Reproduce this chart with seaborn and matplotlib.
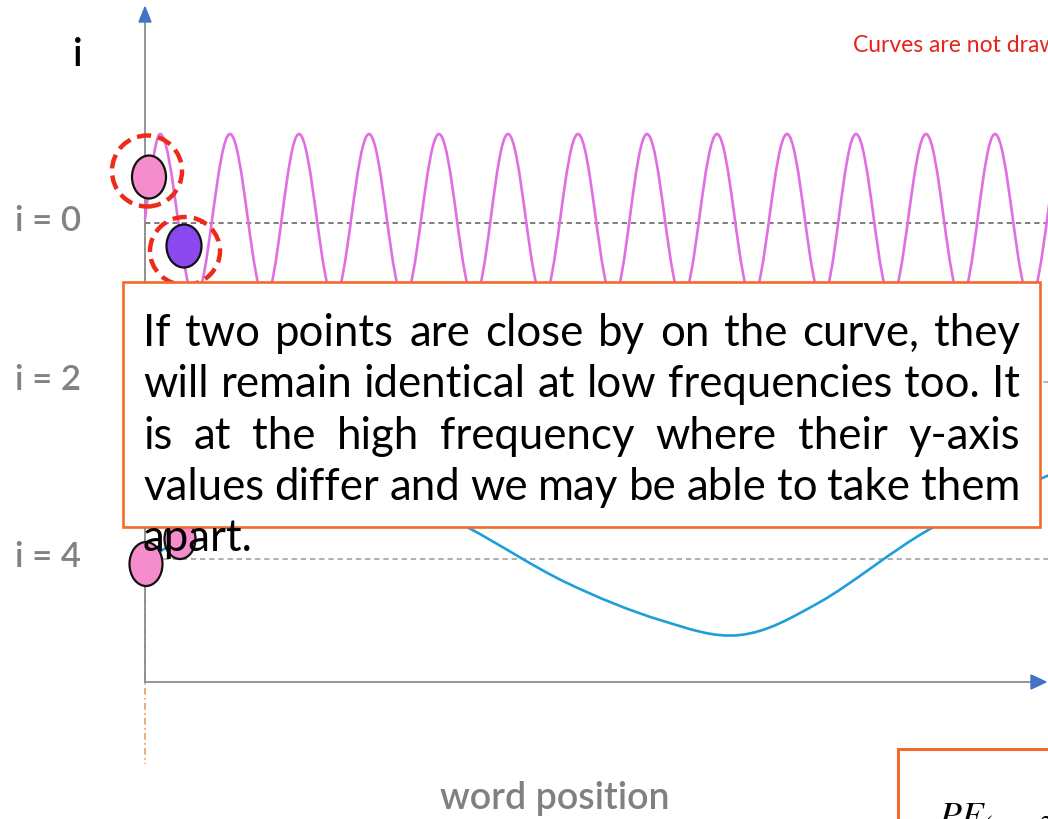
import matplotlib
matplotlib.use("Agg")
import matplotlib.pyplot as plt
from matplotlib.path import Path
from matplotlib.patches import PathPatch, Ellipse, Rectangle, Polygon
import pandas as pd
import seaborn as sns

# ---- values (pixel units above / right of the axes origin) ----
level_names = ["i = 0", "i = 2", "i = 4"]
level_heights = [459, 300, 123]
level_colors = ["#5a5a5a", "#9a9a9a", "#9a9a9a"]

# i = 0 : high-frequency sinusoid, positions of its extrema
hf_start = (0, 463)
hf_peak_x = [15, 85, 154, 224, 294, 363, 433, 502, 572, 642, 711, 781, 850, 920]
hf_trough_x = [50, 120, 189, 259, 329, 398, 468, 537, 607, 677, 746, 816, 885]
hf_peak_y = 548
hf_trough_y = 383

# i = 4 : low-frequency curve, points along it
lf_x = [0, 35, 130, 230, 322, 420, 515, 595, 675, 785, 895, 935]
lf_y = [118, 143, 190, 200, 155, 100, 62, 47, 80, 153, 203, 218]

# highlighted word positions (x, y, width, height, colour)
dots_x = [4, 39, 1, 35]
dots_y = [505, 436, 118, 143]
dots_w = [34, 35, 33, 31]
dots_h = [43, 43, 44, 40]
dots_c = ["#f58ccb", "#8a48ef", "#f58ccb", "#f58ccb"]
rings_x = [2, 40]
rings_y = [511, 431]
rings_w = [70, 70]
rings_h = [71, 68]

note_lines = [
    "If two points are close by on the curve, they",
    "will remain identical at low frequencies too. It",
    "is at the high frequency where their y-axis",
    "values differ and we may be able to take them",
    "apart.",
]

W, H = 1048, 820
OX, OY = 145, 683  # axes origin in figure pixels

sns.set_theme(style="white")
plt.rcParams["font.family"] = ["Lato", "DejaVu Sans"]

fig = plt.figure(figsize=(W / 100, H / 100), dpi=100)
ax = fig.add_axes([0, 0, 1, 1])
ax.set_xlim(-OX, W - OX)
ax.set_ylim(OY - H, OY)
ax.axis("off")

# guide lines at each level
for name, h, c in zip(level_names, level_heights, level_colors):
    df = pd.DataFrame({"x": [0, W - OX], "y": [h, h]})
    sns.lineplot(data=df, x="x", y="y", ax=ax, color=c, lw=1.1,
                 linestyle=(0, (3.5, 2.5)), zorder=1)

# orange dash-dot marker at position 0
ax.plot([0, 0], [level_heights[0], -82], color="#e3a062", lw=1.2,
        linestyle=(0, (4, 2, 1, 2)), zorder=1)

# axes with arrow heads
ax.plot([0, 0], [0, 662], color="#8c8c8c", lw=1.3, zorder=2)
ax.plot([0, 888], [0, 0], color="#8c8c8c", lw=1.3, zorder=2)
ax.add_patch(Polygon([[-6, 660], [6, 660], [0, 675]], closed=True,
                     color="#4472c4", zorder=3))
ax.add_patch(Polygon([[886, -7], [886, 7], [901, 0]], closed=True,
                     color="#4472c4", zorder=3))


def sine_path(start, peaks, troughs, ytop, ybot):
    ext = sorted([(x, ytop) for x in peaks] + [(x, ybot) for x in troughs])
    verts = [start]
    codes = [Path.MOVETO]
    x0, y0 = start
    x1, y1 = ext[0]
    verts += [(x0 + 3, y0 + 22), (x1 - 5, y1), (x1, y1)]
    codes += [Path.CURVE4] * 3
    k = 0.3634
    for (xa, ya), (xb, yb) in zip(ext[:-1], ext[1:]):
        dx = xb - xa
        verts += [(xa + k * dx, ya), (xb - k * dx, yb), (xb, yb)]
        codes += [Path.CURVE4] * 3
    return Path(verts, codes)


def smooth_path(xs, ys):
    pts = list(zip(xs, ys))
    n = len(pts)
    verts = [pts[0]]
    codes = [Path.MOVETO]
    for i in range(n - 1):
        p0 = pts[max(i - 1, 0)]
        p1 = pts[i]
        p2 = pts[i + 1]
        p3 = pts[min(i + 2, n - 1)]
        c1 = (p1[0] + (p2[0] - p0[0]) / 6, p1[1] + (p2[1] - p0[1]) / 6)
        c2 = (p2[0] - (p3[0] - p1[0]) / 6, p2[1] - (p3[1] - p1[1]) / 6)
        verts += [c1, c2, p2]
        codes += [Path.CURVE4] * 3
    return Path(verts, codes)


ax.add_patch(PathPatch(sine_path(hf_start, hf_peak_x, hf_trough_x, hf_peak_y, hf_trough_y),
                       fill=False, ec="#e16fe3", lw=1.9, zorder=2, capstyle="round"))
ax.add_patch(PathPatch(smooth_path(lf_x, lf_y), fill=False, ec="#1f9fd9",
                       lw=1.9, zorder=2, capstyle="round"))

for x, y, w, h, c in zip(dots_x, dots_y, dots_w, dots_h, dots_c):
    ax.add_patch(Ellipse((x, y), w, h, fc=c, ec="#111111", lw=1.6, zorder=3))
for x, y, w, h in zip(rings_x, rings_y, rings_w, rings_h):
    ax.add_patch(Ellipse((x, y), w, h, fill=False, ec="#ee2a1a", lw=3.2,
                         linestyle=(0, (3.2, 1.6)), zorder=4))

# note box
ax.add_patch(Rectangle((-22, 155), 917, 245, fc="white", ec="#f26a2b",
                       lw=1.9, zorder=5))
# second (partially visible) box with the encoding formula
ax.add_patch(Rectangle((753, -220), 400, 153, fc="white", ec="#f26a2b",
                       lw=2.2, zorder=5))
ax.text(793, -146, r"$PE_{(pos,2i)}$", fontsize=27, color="black",
        math_fontfamily="stix", va="baseline", ha="left", zorder=6)

# justified note text
fig.canvas.draw()
renderer = fig.canvas.get_renderer()
left, right = -2, 875
baselines = [337, 286, 234, 183, 132]
fs = 31.5
inv = ax.transData.inverted()
for line, yb in zip(note_lines, baselines):
    words = line.split(" ")
    if len(words) == 1:
        ax.text(left, yb, line, fontsize=fs, color="black", va="baseline",
                ha="left", zorder=6)
        continue
    arts = [ax.text(0, yb, w, fontsize=fs, color="black", va="baseline",
                    ha="left", zorder=6) for w in words]
    widths = []
    for a in arts:
        bb = a.get_window_extent(renderer)
        p0 = inv.transform((bb.x0, bb.y0))
        p1 = inv.transform((bb.x1, bb.y1))
        widths.append(p1[0] - p0[0])
    gap = (right - left - sum(widths)) / (len(words) - 1)
    x = left
    for a, w in zip(arts, widths):
        a.set_x(x)
        x += w + gap

# axis labels
ax.text(-67, 628, "i", fontsize=28, color="black", ha="center", va="center",
        fontweight="semibold")
for name, h in zip(level_names, level_heights):
    ax.text(-97, h + 3, name, fontsize=25, color="#828282", ha="center",
            va="center", fontweight="semibold")
ax.text(410, -116, "word position", fontsize=27, color="#808080",
        ha="center", va="center", fontweight="semibold")
ax.text(708, 638, "Curves are not drawn to scale", fontsize=16.5,
        color="#e5231b", ha="left", va="center")

fig.savefig("out.png", dpi=100)
